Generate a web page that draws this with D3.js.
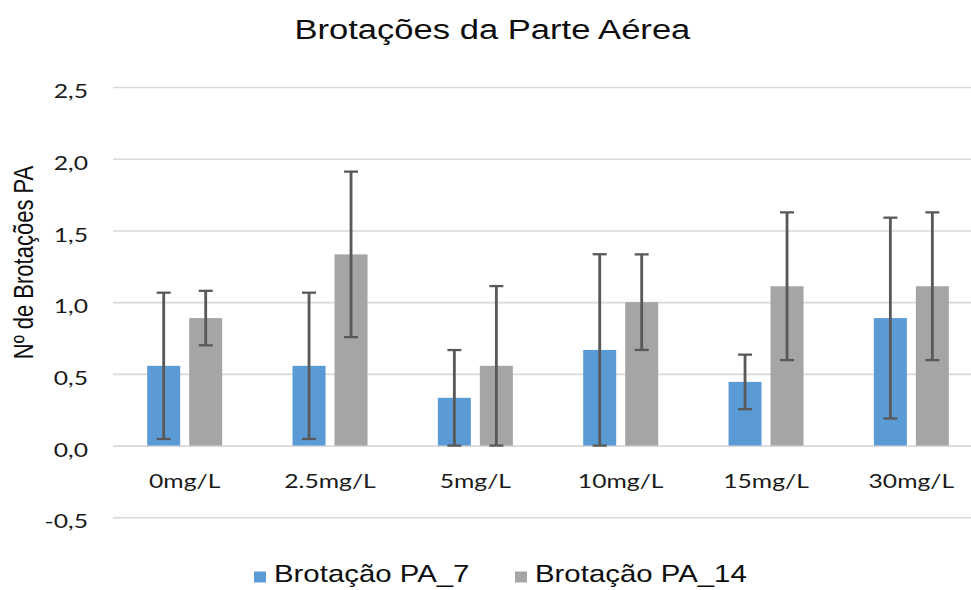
<!DOCTYPE html>
<html>
<head>
<meta charset="utf-8">
<script src="https://cdn.jsdelivr.net/npm/d3@7"></script>
<style>
  html, body { margin: 0; padding: 0; background: #fff; }
  svg { display: block; }
</style>
</head>
<body>
<svg id="chart"></svg>
<script>
'use strict';

var categories = ['0mg/L', '2.5mg/L', '5mg/L', '10mg/L', '15mg/L', '30mg/L'];
var seriesNames = ['Brotação PA_7', 'Brotação PA_14'];
var pa7 = [0.556, 0.556, 0.333, 0.667, 0.444, 0.889];
var pa7Err = [0.51, 0.51, 0.333, 0.667, 0.19, 0.70];
var pa14 = [0.889, 1.333, 0.556, 1.0, 1.111, 1.111];
var pa14Err = [0.19, 0.577, 0.556, 0.333, 0.515, 0.515];
var yTicks = [-0.5, 0, 0.5, 1.0, 1.5, 2.0, 2.5];
var colors = ['#5b9bd5', '#a5a5a5'];

// the picture is stretched sideways, so draw in narrower units and scale
var SX = 1.235,
  width = 971,
  height = 590,
  W = width / SX;

var svg = d3.select('#chart')
  .attr('width', width)
  .attr('height', height)
  .attr('viewBox', '0 0 ' + W + ' ' + height)
  .attr('preserveAspectRatio', 'none');

var rows = categories.map(function (c, i) {
  return {cat: c, values: [
    {s: 0, v: pa7[i], e: pa7Err[i]},
    {s: 1, v: pa14[i], e: pa14Err[i]}
  ]};
});

var x0 = d3.scaleBand()
  .domain(categories)
  .range([112 / SX, 984 / SX]);

var x1 = d3.scaleBand()
  .domain([0, 1])
  .range([35.2 / SX, 110.2 / SX])
  .paddingInner(0.214);

var y = d3.scaleLinear()
  .domain([-0.5, 2.5])
  .range([517.3, 87]);

var locale = d3.formatLocale({decimal: ',', thousands: '.', grouping: [3], currency: ['', ''], minus: '-'});
var fmt = locale.format('.1f');

// y axis with grid lines
var yAxis = d3.axisLeft(y)
  .tickValues(yTicks)
  .tickFormat(fmt)
  .tickSizeInner(-(W - 113 / SX))
  .tickSizeOuter(0)
  .tickPadding(25 / SX);

var gy = svg.append('g')
  .attr('transform', 'translate(' + (113 / SX) + ',0)')
  .call(yAxis);
gy.select('.domain').remove();
gy.selectAll('line')
  .attr('stroke', '#d9d9d9')
  .attr('stroke-width', 1.6);
gy.selectAll('text')
  .attr('dy', '0.53em')
  .attr('fill', '#1a1a1a')
  .style('font-family', 'Lato, sans-serif')
  .style('font-size', '20px');

// category labels
var xAxis = d3.axisBottom(x0)
  .tickSize(0)
  .tickPadding(28.5);
var gx = svg.append('g')
  .attr('transform', 'translate(0,' + y(0) + ')')
  .call(xAxis);
gx.select('.domain').remove();
gx.selectAll('text')
  .attr('fill', '#1a1a1a')
  .style('font-family', 'Lato, sans-serif')
  .style('font-size', '20px');

// bars
var groups = svg.selectAll('g.cat').data(rows).enter()
  .append('g')
  .classed('cat', true)
  .attr('transform', function (d) { return 'translate(' + x0(d.cat) + ',0)'; });

groups.selectAll('rect').data(function (d) { return d.values; }).enter()
  .append('rect')
  .attr('x', function (d) { return x1(d.s); })
  .attr('y', function (d) { return y(d.v); })
  .attr('width', x1.bandwidth())
  .attr('height', function (d) { return y(0) - y(d.v); })
  .attr('fill', function (d) { return colors[d.s]; });

// error bars
var capW = 14 / SX;
groups.selectAll('g.err').data(function (d) { return d.values; }).enter()
  .append('g')
  .classed('err', true)
  .each(function (d) {
    var g = d3.select(this);
    var cx = x1(d.s) + x1.bandwidth() / 2;
    var lo = Math.max(0, d.v - d.e), hi = d.v + d.e;
    g.append('line')
      .attr('x1', cx).attr('x2', cx)
      .attr('y1', y(lo)).attr('y2', y(hi));
    [lo, hi].forEach(function (v) {
      g.append('line')
        .attr('x1', cx - capW / 2).attr('x2', cx + capW / 2)
        .attr('y1', y(v)).attr('y2', y(v));
    });
  })
  .selectAll('line')
  .attr('stroke', '#595959')
  .attr('stroke-width', 2.3);

// title
svg.append('text')
  .attr('x', 492.4 / SX)
  .attr('y', 39)
  .attr('text-anchor', 'middle')
  .attr('fill', '#0d0d0d')
  .style('font-family', '"Liberation Sans", Arial, sans-serif')
  .style('font-size', '28px')
  .text('Brotações da Parte Aérea');

// y axis title
svg.append('text')
  .attr('transform', 'translate(' + (33 / SX) + ',262.5) rotate(-90)')
  .attr('text-anchor', 'middle')
  .attr('fill', '#0d0d0d')
  .style('font-family', '"Liberation Sans", Arial, sans-serif')
  .style('font-size', '22px')
  .text('Nº de Brotações PA');

// legend
var legendX = [254, 515];
var legend = svg.selectAll('g.legend').data(seriesNames).enter()
  .append('g')
  .classed('legend', true)
  .attr('transform', function (d, i) { return 'translate(' + (legendX[i] / SX) + ',0)'; });

legend.append('rect')
  .attr('x', 0)
  .attr('y', 571.5)
  .attr('width', 12 / SX)
  .attr('height', 11)
  .attr('fill', function (d, i) { return colors[i]; });

legend.append('text')
  .attr('x', 20 / SX)
  .attr('y', 582.5)
  .attr('fill', '#0d0d0d')
  .style('font-family', '"Liberation Sans", Arial, sans-serif')
  .style('font-size', '23.8px')
  .text(function (d) { return d; });
</script>
</body>
</html>
